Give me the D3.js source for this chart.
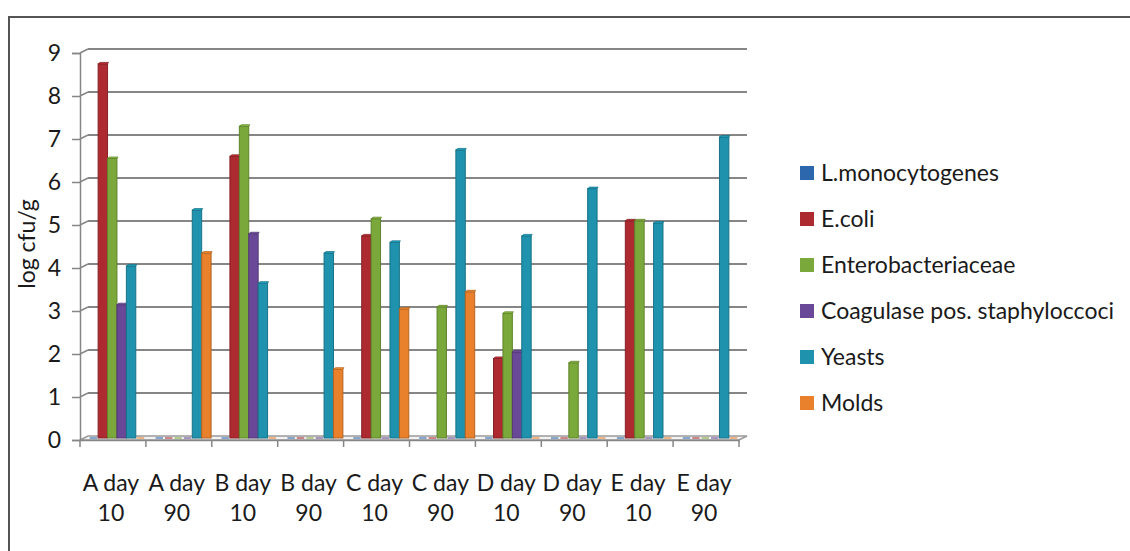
<!DOCTYPE html>
<html>
<head>
<meta charset="utf-8">
<script src="https://cdn.jsdelivr.net/npm/d3@7/dist/d3.min.js"></script>
<style>
  html, body { margin: 0; padding: 0; background: #fff; }
  svg { display: block; }
  text { font-family: Lato, "Open Sans", sans-serif; fill: #1a1a1a; }
</style>
</head>
<body>
<svg id="chart" width="1130" height="551"></svg>
<script>
// Samples and sampling days
const categories = ["A day 10", "A day 90", "B day 10", "B day 90", "C day 10",
                    "C day 90", "D day 10", "D day 90", "E day 10", "E day 90"];

// Microbial counts, log cfu/g
const seriesNames = ["L.monocytogenes", "E.coli", "Enterobacteriaceae",
                     "Coagulase pos. staphyloccoci", "Yeasts", "Molds"];
const lMonocytogenes = [0, 0, 0, 0, 0, 0, 0, 0, 0, 0];
const eColi          = [8.7, 0, 6.55, 0, 4.7, 0, 1.85, 0, 5.05, 0];
const enterobact     = [6.5, 0, 7.25, 0, 5.1, 3.05, 2.9, 1.75, 5.05, 0];
const coagulasePos   = [3.1, 0, 4.75, 0, 0, 0, 2.0, 0, 0, 0];
const yeasts         = [4.0, 5.3, 3.6, 4.3, 4.55, 6.7, 4.7, 5.8, 5.0, 7.0];
const molds          = [0, 4.3, 0, 1.6, 3.0, 3.4, 0, 0, 0, 0];

const yTicks = [0, 1, 2, 3, 4, 5, 6, 7, 8, 9];

const seriesValues = [lMonocytogenes, eColi, enterobact, coagulasePos, yeasts, molds];
const colors = ["#2c66ad", "#ad2a31", "#7ba83a", "#6a4898", "#1f93ae", "#e8802c"];

const svg = d3.select("#chart");

// outer frame
svg.append("path")
  .attr("d", "M9,551 L9,17 L1130,17")
  .attr("fill", "none").attr("stroke", "#555").attr("stroke-width", 2);

// plot geometry (front plane) and depth offset of the back wall
const x0 = 80, x1 = 739, yBottom = 440, yTop = 53;
const depthX = 8, depthY = -4;

const x = d3.scaleBand().domain(categories).range([x0, x1]).paddingInner(0).paddingOuter(0);
const y = d3.scaleLinear().domain([0, 9]).range([yBottom, yTop]);
const sub = d3.scaleBand().domain(d3.range(seriesNames.length))
  .range([0, x.bandwidth()]).paddingOuter(0.5).paddingInner(0);

const grid = svg.append("g");
// floor
grid.append("path")
  .attr("d", `M${x0},${yBottom} L${x1},${yBottom} L${x1 + depthX},${yBottom + depthY} L${x0 + depthX},${yBottom + depthY} Z`)
  .attr("fill", "#f3f3f3").attr("stroke", "#9a9a9a").attr("stroke-width", 1.5);

// back-wall gridlines and side-wall connectors
yTicks.filter(t => t > 0).forEach(t => {
  grid.append("line")
    .attr("x1", x0 + depthX).attr("x2", x1 + depthX)
    .attr("y1", y(t) + depthY).attr("y2", y(t) + depthY)
    .attr("stroke", "#868686").attr("stroke-width", 2);
  grid.append("line")
    .attr("x1", x0).attr("x2", x0 + depthX)
    .attr("y1", y(t)).attr("y2", y(t) + depthY)
    .attr("stroke", "#868686").attr("stroke-width", 1.5);
});

// value axis
const yAxis = d3.axisLeft(y).tickValues(yTicks).tickSize(8).tickPadding(11).tickFormat(d3.format("d"));
const gy = svg.append("g").attr("transform", `translate(${x0},0)`).call(yAxis);
gy.select(".domain").attr("stroke", "#868686").attr("stroke-width", 1.5);
gy.selectAll(".tick line").attr("stroke", "#868686").attr("stroke-width", 1.5);
gy.selectAll(".tick text").attr("font-size", 23).style("font-family", "Lato, sans-serif").attr("fill", "#1a1a1a");

// category axis
const xAxis = d3.axisBottom(x).tickSize(0).tickFormat("");
const gx = svg.append("g").attr("transform", `translate(0,${yBottom})`).call(xAxis);
gx.select(".domain").attr("stroke", "#868686").attr("stroke-width", 1.5);
const boundaries = categories.map(c => x(c)).concat([x1]);
gx.selectAll("line.sep").data(boundaries).join("line").attr("class", "sep")
  .attr("x1", d => d).attr("x2", d => d).attr("y1", 0).attr("y2", 7)
  .attr("stroke", "#868686").attr("stroke-width", 1.5);

// two-line category labels
const lab = svg.append("g");
categories.forEach(c => {
  const parts = c.split(" ");
  const cx = x(c) + x.bandwidth() / 2 - 2;
  const t = lab.append("text").attr("text-anchor", "middle").attr("font-size", 23);
  t.append("tspan").attr("x", cx).attr("y", 491).text(parts[0] + " " + parts[1]);
  t.append("tspan").attr("x", cx).attr("y", 521).text(parts[2]);
});

// axis title
svg.append("text")
  .attr("transform", "translate(35,244) rotate(-90)")
  .attr("text-anchor", "middle").attr("font-size", 23)
  .text("log cfu/g");

// columns (drawn at mid depth)
const barDX = 4, barDY = -2, capX = 2, capY = -1.5;
const bars = svg.append("g");
seriesValues.forEach((vals, si) => {
  const col = colors[si];
  const dark = d3.color(col).darker(0.7).formatHex();
  const light = d3.color(col).brighter(0.5).formatHex();
  vals.forEach((v, ci) => {
    const bx = x(categories[ci]) + sub(si) + barDX;
    const bw = sub.bandwidth();
    if (v <= 0) {
      // empty measurements show as flat tiles on the floor
      bars.append("rect")
        .attr("x", bx + 1).attr("y", yBottom + barDY - 1)
        .attr("width", bw - 2).attr("height", 2)
        .attr("fill", col).attr("opacity", 0.55);
      return;
    }
    const top = y(v) + barDY;
    const bot = yBottom + barDY;
    bars.append("rect")
      .attr("x", bx).attr("y", top)
      .attr("width", bw).attr("height", bot - top)
      .attr("fill", col).attr("stroke", dark).attr("stroke-width", 1);
    bars.append("path")
      .attr("d", `M${bx},${top} L${bx + capX},${top + capY} L${bx + bw + capX - 1},${top + capY} L${bx + bw},${top} Z`)
      .attr("fill", light).attr("stroke", dark).attr("stroke-width", 0.8);
  });
});

// legend
const legend = svg.append("g");
seriesNames.forEach((name, i) => {
  const ly = 173 + i * 46;
  legend.append("rect").attr("x", 800).attr("y", ly - 7).attr("width", 14).attr("height", 14)
    .attr("fill", colors[i]);
  legend.append("text").attr("x", 821).attr("y", ly).attr("dy", "0.36em")
    .attr("font-size", 23).text(name);
});
</script>
</body>
</html>
